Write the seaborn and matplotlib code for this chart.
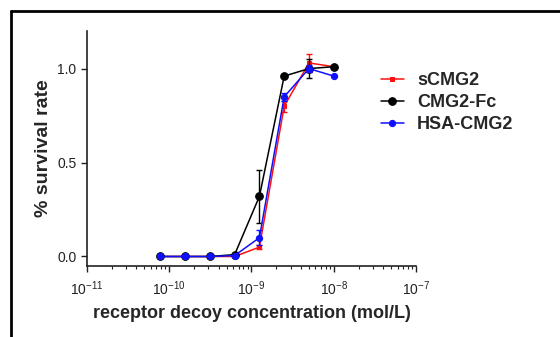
import matplotlib
matplotlib.use("Agg")
import matplotlib.pyplot as plt
from matplotlib.lines import Line2D
import seaborn as sns
import pandas as pd
import numpy as np

sns.set_style("ticks")
plt.rcParams["font.family"] = ["Liberation Sans", "DejaVu Sans"]
plt.rcParams["mathtext.default"] = "regular"

conc = [7.8e-11, 1.56e-10, 3.125e-10, 6.25e-10, 1.25e-9, 2.5e-9, 5e-9, 1e-8]
series = ["sCMG2", "CMG2-Fc", "HSA-CMG2"]
scmg2 = [0.0, 0.0, 0.0, 0.0, 0.05, 0.80, 1.03, 1.01]
scmg2_err = [0.0, 0.0, 0.0, 0.0, 0.01, 0.03, 0.05, 0.01]
fc = [0.0, 0.0, 0.0, 0.01, 0.32, 0.96, 1.0, 1.01]
fc_err = [0.0, 0.0, 0.0, 0.0, 0.14, 0.0, 0.05, 0.0]
hsa = [0.0, 0.0, 0.0, 0.005, 0.10, 0.85, 1.0, 0.96]
hsa_err = [0.0, 0.0, 0.0, 0.0, 0.04, 0.02, 0.02, 0.0]
colors = {"sCMG2": "#ff1010", "CMG2-Fc": "#000000", "HSA-CMG2": "#1010ff"}
markers = {"sCMG2": "s", "CMG2-Fc": "o", "HSA-CMG2": "o"}
msizes = {"sCMG2": 3.5, "CMG2-Fc": 5.5, "HSA-CMG2": 4.5}

df = pd.DataFrame({
    "conc": conc * 3,
    "rate": scmg2 + fc + hsa,
    "err": scmg2_err + fc_err + hsa_err,
    "series": np.repeat(series, len(conc)),
})

fig = plt.figure(figsize=(5.6, 3.37), dpi=100)
ax = fig.add_axes([0.155, 0.211, 0.588, 0.697])

for name in series:
    sub = df[df["series"] == name]
    ax.errorbar(sub["conc"], sub["rate"], yerr=sub["err"], fmt="none",
                ecolor=colors[name], elinewidth=1, capsize=2.5, capthick=1)
    sns.lineplot(data=sub, x="conc", y="rate", ax=ax, color=colors[name],
                 marker=markers[name], markersize=msizes[name], linewidth=1.1,
                 markeredgecolor=colors[name], label=name, errorbar=None)

ax.set_xscale("log")
ax.set_xlim(1e-11, 1e-7)
ax.set_ylim(-0.05, 1.2)
ax.set_yticks([0.0, 0.5, 1.0])
ax.set_yticklabels(["0.0", "0.5", "1.0"])
ax.set_xticks([1e-11, 1e-10, 1e-9, 1e-8, 1e-7])
ax.set_xticklabels(["$10^{-11}$", "$10^{-10}$", "$10^{-9}$", "$10^{-8}$", "$10^{-7}$"])
ax.tick_params(axis="both", which="major", labelsize=10, length=4, width=1, colors="#222222")
ax.tick_params(axis="x", which="major", pad=6)
ax.tick_params(axis="x", which="minor", length=2.5, width=0.8, colors="#222222")
for s in ["left", "bottom"]:
    ax.spines[s].set_linewidth(1.2)
    ax.spines[s].set_color("#222222")
sns.despine(ax=ax)
ax.set_xlabel("receptor decoy concentration (mol/L)", fontsize=13, fontweight="bold", labelpad=5)
ax.set_ylabel("% survival rate", fontsize=14, fontweight="bold", labelpad=4)

ax.legend(loc="upper left", bbox_to_anchor=(372 / 560, 1 - 63 / 337),
          bbox_transform=fig.transFigure, frameon=False,
          prop={"weight": "bold", "size": 13}, handlelength=1.25,
          labelspacing=0.28, handletextpad=0.75, borderpad=0)

fig.add_artist(Line2D([0.02, 1.0], [1 - 11 / 337] * 2, color="black", lw=2, transform=fig.transFigure))
fig.add_artist(Line2D([11 / 560] * 2, [0.0, 1 - 11 / 337], color="black", lw=2, transform=fig.transFigure))

fig.savefig("out.png", dpi=100)
